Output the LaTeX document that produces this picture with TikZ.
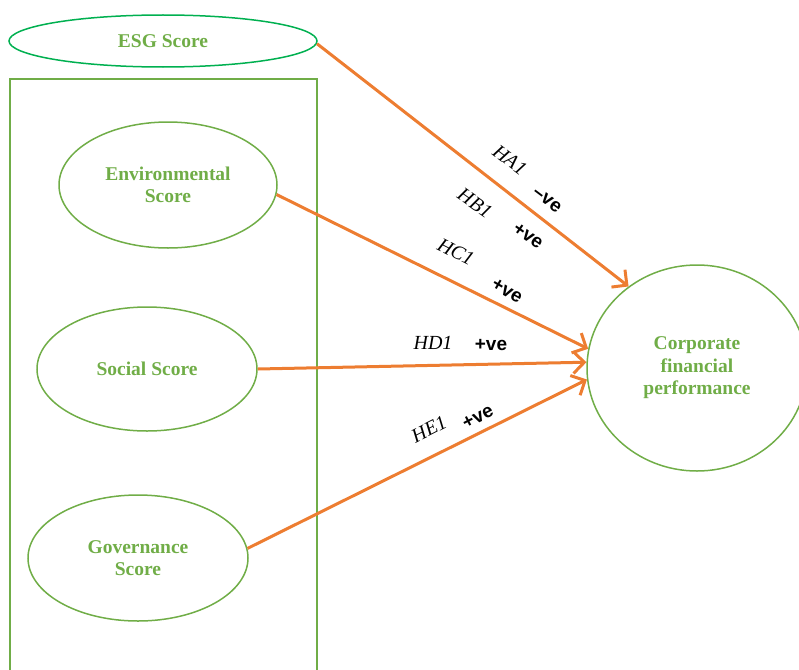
\documentclass[tikz,border=0pt]{standalone}
\usepackage{fontspec}
\setmainfont{Liberation Serif}
\newfontfamily\signfont{Liberation Sans}
\usetikzlibrary{arrows.meta,shapes.geometric}

\definecolor{leafgreen}{HTML}{70AD47}
\definecolor{esggreen}{HTML}{00B050}
\definecolor{linkorange}{HTML}{ED7D31}

\tikzset{
  score/.style={ellipse, draw=leafgreen, line width=1.5pt, inner sep=0pt,
    align=center, text=leafgreen, font=\fontsize{19.5}{22.5}\selectfont\bfseries},
  link/.style={linkorange, line width=3pt,
    -{Straight Barb[length=11pt,width=22pt]}},
  hyp/.style={inner sep=0pt, font=\fontsize{20}{22}\selectfont\itshape},
  sign/.style={inner sep=0pt, font=\signfont\fontsize{19}{20}\selectfont\bfseries},
}

\begin{document}
\begin{tikzpicture}[x=1pt,y=-1pt]
\clip (0,0) rectangle (799,669);

% ESG score and its parts
\node[score, draw=esggreen, minimum width=308pt, minimum height=52pt] (esg) at (163,41) {ESG Score};
\draw[leafgreen, line width=1.5pt] (10,79) rectangle (317,680);
\node[score, minimum width=218pt, minimum height=126pt] (env) at (168,185) {Environmental\\Score};
\node[score, minimum width=220pt, minimum height=124pt] (soc) at (147,369) {Social Score};
\node[score, minimum width=220pt, minimum height=126pt] (gov) at (138,558) {Governance\\Score};

% outcome
\node[score, minimum width=220pt, minimum height=206pt] (cfp) at (697,368) {Corporate\\financial\\performance};

% hypotheses
\draw[link] (esg.-1) -- (cfp.130);
\draw[link] (env.-5) -- (cfp.170);
\draw[link] (soc.east) -- (cfp.177);
\draw[link] (gov.5) -- (cfp.186);

\node[hyp, rotate=-37] (ha) at (510,160) {HA1};
\node[sign, rotate=-37] (hasign) at (547,200) {–ve};
\node[hyp, rotate=-35] (hb) at (475,203) {HB1};
\node[sign, rotate=-35] (hbsign) at (528,236) {+ve};
\node[hyp, rotate=-27] (hc) at (456,252) {HC1};
\node[sign, rotate=-30] (hcsign) at (507,291) {+ve};
\node[hyp] (hd) at (433,343) {HD1};
\node[sign] (hdsign) at (491,345) {+ve};
\node[hyp, rotate=27] (he) at (429,429) {HE1};
\node[sign, rotate=27] (hesign) at (478,417) {+ve};
\end{tikzpicture}
\end{document}
